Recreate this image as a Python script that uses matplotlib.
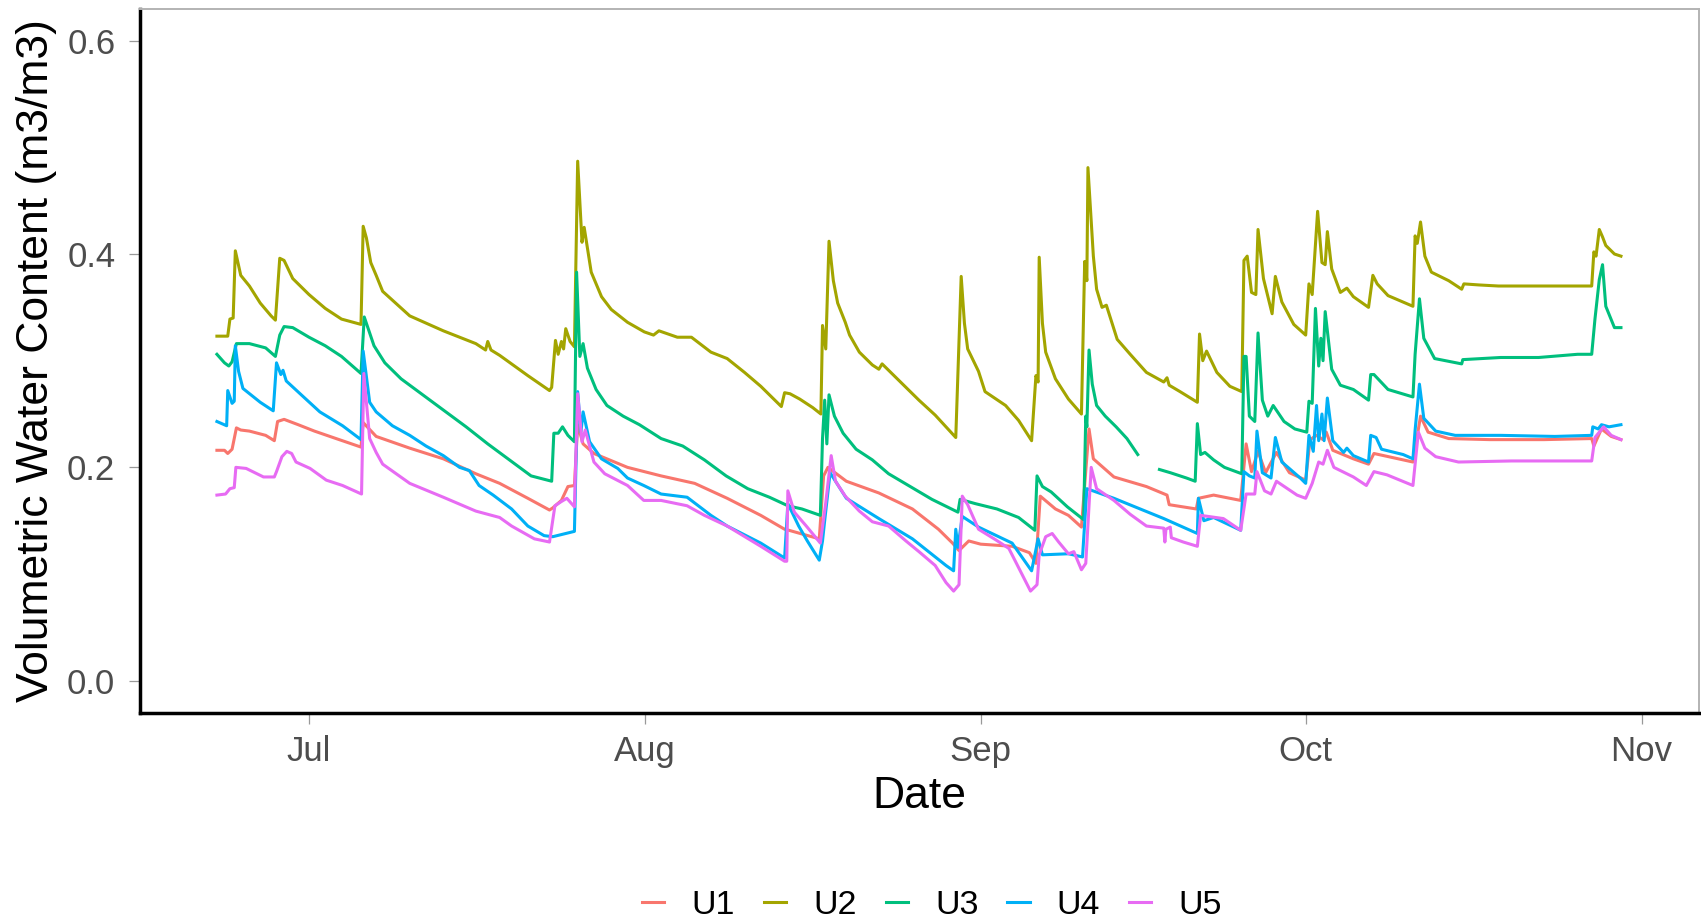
import numpy as np
import pandas as pd
import matplotlib
matplotlib.use("Agg")
import matplotlib.pyplot as plt
import matplotlib.dates as mdates

plt.rcParams['font.family'] = ['Liberation Sans', 'DejaVu Sans']

# days after 1 July, volumetric water content (m3/m3)
start = pd.Timestamp("2021-07-01")
sensors = ["U1", "U2", "U3", "U4", "U5"]
colors = ["#F8766D", "#A3A500", "#00BF7D", "#00B0F6", "#E76BF3"]

u1 = [(-8.5, 0.216), (-7.8, 0.216), (-7.5, 0.213), (-7.1, 0.217), (-6.7, 0.237), (-6.3, 0.235),
      (-5.5, 0.234), (-4.0, 0.230), (-3.2, 0.225), (-2.9, 0.243), (-2.3, 0.245), (-1.0, 0.240),
      (0.5, 0.234), (2.5, 0.227), (4.8, 0.219), (5.0, 0.242), (6.2, 0.229), (9.3, 0.218),
      (12.4, 0.208), (15.4, 0.194), (17.6, 0.185), (20.2, 0.171), (22.2, 0.160), (22.5, 0.162),
      (23.3, 0.169), (23.9, 0.182), (24.5, 0.183), (24.8, 0.240), (25.3, 0.222), (26.3, 0.213),
      (29.4, 0.200), (32.5, 0.192), (35.6, 0.185), (38.6, 0.171), (41.7, 0.155), (43.9, 0.142),
      (44.3, 0.141), (47.1, 0.133), (47.5, 0.192), (47.9, 0.200), (49.6, 0.187), (52.6, 0.176),
      (55.7, 0.161), (58.1, 0.142), (59.4, 0.129), (60.0, 0.122), (60.9, 0.131), (62.0, 0.128),
      (64.9, 0.126), (66.5, 0.120), (67.1, 0.110), (67.5, 0.173), (68.9, 0.161), (70.1, 0.155),
      (71.3, 0.144), (72.0, 0.236), (72.4, 0.208), (74.3, 0.191), (77.3, 0.182), (79.2, 0.174),
      (79.4, 0.165), (81.9, 0.161), (82.1, 0.171), (83.5, 0.174), (86.0, 0.169), (86.5, 0.222),
      (87.0, 0.196), (87.6, 0.215), (88.3, 0.195), (89.3, 0.214), (90.5, 0.195), (92.0, 0.188),
      (92.4, 0.226), (93.0, 0.230), (93.6, 0.226), (93.9, 0.233), (94.5, 0.216), (96.4, 0.208),
      (97.8, 0.203), (98.3, 0.213), (101.9, 0.205), (102.6, 0.248), (103.3, 0.233), (105.2, 0.227),
      (109.0, 0.226), (114.0, 0.226), (118.4, 0.227), (118.6, 0.220), (119.3, 0.236), (120.2, 0.229),
      (121.1, 0.226)]

u2 = [(-8.5, 0.323), (-7.5, 0.323), (-7.3, 0.339), (-7.0, 0.340), (-6.8, 0.403), (-6.3, 0.380),
      (-5.5, 0.370), (-4.5, 0.354), (-3.5, 0.342), (-3.1, 0.338), (-2.7, 0.396), (-2.3, 0.394),
      (-1.5, 0.377), (0.0, 0.362), (1.5, 0.349), (3.0, 0.339), (4.8, 0.334), (5.0, 0.426),
      (5.3, 0.415), (5.7, 0.392), (6.2, 0.380), (6.8, 0.365), (9.3, 0.342), (12.4, 0.328), (15.4, 0.316),
      (16.3, 0.310), (16.5, 0.318), (16.8, 0.310), (17.6, 0.305), (20.2, 0.286), (22.2, 0.272),
      (22.4, 0.275), (22.75, 0.319), (23.0, 0.306), (23.3, 0.318), (23.5, 0.311), (23.7, 0.330),
      (24.1, 0.318), (24.5, 0.313), (24.8, 0.487), (25.2, 0.411), (25.4, 0.425), (26.05, 0.383),
      (27.0, 0.360), (27.9, 0.348), (29.4, 0.336), (30.95, 0.327), (31.8, 0.324), (32.3, 0.328),
      (34.0, 0.322), (35.3, 0.322), (37.1, 0.308), (38.6, 0.302), (40.2, 0.289), (41.7, 0.276),
      (43.6, 0.257), (43.9, 0.270), (44.4, 0.269), (45.3, 0.264), (46.5, 0.256), (47.25, 0.250),
      (47.4, 0.333), (47.7, 0.311), (48.0, 0.412), (48.4, 0.375), (48.8, 0.354), (49.5, 0.336), (49.9, 0.324),
      (50.8, 0.308), (52.0, 0.296), (52.6, 0.292), (52.9, 0.297), (53.9, 0.287), (55.1, 0.275),
      (56.3, 0.263), (57.8, 0.249), (59.7, 0.228), (60.2, 0.379), (60.5, 0.335), (60.8, 0.311), (61.8, 0.290),
      (62.4, 0.271), (64.3, 0.258), (65.5, 0.244), (66.7, 0.225), (67.1, 0.286), (67.3, 0.280),
      (67.4, 0.397), (67.7, 0.335), (68.0, 0.308), (68.9, 0.283), (70.1, 0.264), (71.3, 0.250), (71.6, 0.393),
      (71.8, 0.375), (71.9, 0.481), (72.4, 0.398), (72.7, 0.367), (73.2, 0.350), (73.6, 0.352),
      (74.6, 0.320), (75.8, 0.306), (77.3, 0.289), (78.9, 0.280), (79.2, 0.284), (79.4, 0.277),
      (80.4, 0.271), (82.0, 0.261), (82.2, 0.325), (82.5, 0.300), (82.85, 0.309), (83.8, 0.289),
      (85.0, 0.276), (86.1, 0.271), (86.3, 0.394), (86.6, 0.398), (87.0, 0.364), (87.4, 0.362),
      (87.6, 0.423), (88.1, 0.377), (88.9, 0.344), (89.2, 0.379), (89.8, 0.355), (90.9, 0.334),
      (92.0, 0.324), (92.3, 0.372), (92.6, 0.362), (93.1, 0.440), (93.5, 0.392), (93.8, 0.390),
      (94.0, 0.421), (94.4, 0.386), (95.2, 0.364), (95.8, 0.368), (96.4, 0.360), (97.8, 0.350),
      (98.2, 0.380), (98.6, 0.372), (99.6, 0.361), (101.9, 0.351), (102.1, 0.417), (102.3, 0.410),
      (102.6, 0.430), (103.0, 0.398), (103.6, 0.383), (105.2, 0.375), (106.4, 0.367), (106.6, 0.372),
      (108.0, 0.371), (109.8, 0.370), (115.0, 0.370), (118.4, 0.370), (118.6, 0.402), (118.8, 0.398),
      (119.1, 0.423), (119.4, 0.416), (119.7, 0.408), (120.5, 0.400), (121.1, 0.398)]

u3 = [(-8.5, 0.306), (-7.8, 0.298), (-7.4, 0.295), (-7.1, 0.299), (-6.7, 0.316), (-5.5, 0.316),
      (-4.0, 0.312), (-3.1, 0.304), (-2.7, 0.324), (-2.3, 0.332), (-1.5, 0.331), (0.0, 0.322),
      (1.5, 0.314), (3.0, 0.304), (4.8, 0.288), (5.1, 0.341), (5.5, 0.329), (6.0, 0.314),
      (7.0, 0.298), (8.5, 0.283), (10.5, 0.268), (12.5, 0.253), (14.5, 0.238), (16.5, 0.222),
      (18.5, 0.207), (20.5, 0.192), (22.4, 0.187), (22.6, 0.232), (23.0, 0.232), (23.4, 0.238),
      (23.9, 0.230), (24.5, 0.224), (24.7, 0.383), (25.0, 0.304), (25.3, 0.316), (25.7, 0.293),
      (26.5, 0.273), (27.5, 0.258), (29.0, 0.248), (30.5, 0.240), (32.5, 0.227), (34.5, 0.220),
      (36.5, 0.207), (38.5, 0.192), (40.5, 0.180), (42.5, 0.172), (44.2, 0.164), (45.5, 0.161),
      (47.2, 0.155), (47.4, 0.227), (47.6, 0.263), (47.8, 0.222), (48.0, 0.268), (48.5, 0.248),
      (49.3, 0.232), (50.5, 0.217), (52.0, 0.207), (53.5, 0.194), (55.5, 0.182), (57.5, 0.170),
      (59.9, 0.158), (60.1, 0.170), (61.5, 0.166), (63.5, 0.161), (65.5, 0.153), (67.0, 0.141),
      (67.2, 0.192), (67.7, 0.182), (68.5, 0.177), (70.0, 0.163), (71.5, 0.151), (71.7, 0.248),
      (71.8, 0.238), (72.0, 0.310), (72.3, 0.278), (72.7, 0.258), (73.5, 0.248), (74.5, 0.238),
      (75.5, 0.227), (76.5, 0.212), (77.5, np.nan), (78.5, 0.198), (79.5, 0.195), (81.0, 0.190),
      (81.8, 0.187), (82.0, 0.241), (82.3, 0.212), (82.7, 0.214), (83.5, 0.207), (84.5, 0.200),
      (86.1, 0.194), (86.3, 0.304), (86.5, 0.304), (86.8, 0.248), (87.3, 0.243), (87.6, 0.326),
      (88.0, 0.263), (88.5, 0.248), (89.0, 0.258), (90.0, 0.243), (91.0, 0.236), (92.1, 0.233),
      (92.3, 0.262), (92.6, 0.260), (92.9, 0.349), (93.2, 0.295), (93.4, 0.321), (93.6, 0.300),
      (93.8, 0.346), (94.4, 0.292), (95.2, 0.277), (96.4, 0.273), (97.8, 0.263), (98.0, 0.287),
      (98.3, 0.287), (99.6, 0.273), (101.9, 0.266), (102.1, 0.306), (102.5, 0.358), (102.9, 0.321),
      (103.9, 0.302), (106.4, 0.297), (106.5, 0.301), (110.0, 0.303), (113.5, 0.303), (117.1, 0.306),
      (118.4, 0.306), (118.7, 0.339), (119.1, 0.376), (119.4, 0.390), (119.7, 0.351), (120.5, 0.331),
      (121.1, 0.331)]

u4 = [(-8.5, 0.243), (-7.6, 0.239), (-7.5, 0.272), (-7.1, 0.260), (-6.9, 0.262), (-6.8, 0.314),
      (-6.5, 0.290), (-6.1, 0.274), (-4.5, 0.261), (-3.3, 0.253), (-3.0, 0.298), (-2.6, 0.287),
      (-2.4, 0.291), (-2.1, 0.281), (-0.5, 0.266), (1.0, 0.252), (3.1, 0.239), (4.8, 0.226),
      (5.0, 0.309), (5.6, 0.261), (6.2, 0.252), (7.7, 0.239), (9.3, 0.230), (10.8, 0.220),
      (12.4, 0.211), (13.9, 0.200), (14.8, 0.197), (15.7, 0.183), (17.0, 0.174), (18.7, 0.161),
      (20.2, 0.145), (21.7, 0.136), (22.5, 0.135), (24.5, 0.140), (24.8, 0.271), (25.1, 0.233),
      (25.3, 0.252), (25.9, 0.224), (27.0, 0.208), (28.5, 0.199), (29.4, 0.190), (30.9, 0.183),
      (32.5, 0.175), (34.9, 0.172), (37.1, 0.155), (38.6, 0.145), (41.7, 0.129), (43.9, 0.115),
      (44.2, 0.166), (45.2, 0.145), (46.0, 0.131), (47.1, 0.113), (47.4, 0.131), (47.6, 0.150),
      (48.1, 0.195), (49.6, 0.171), (52.6, 0.152), (55.7, 0.133), (58.8, 0.108), (59.5, 0.103),
      (59.7, 0.142), (59.9, 0.125), (60.3, 0.154), (61.8, 0.144), (64.9, 0.129), (66.7, 0.103),
      (67.3, 0.133), (67.7, 0.118), (70.1, 0.119), (71.4, 0.116), (71.8, 0.180), (74.3, 0.171),
      (78.9, 0.152), (82.0, 0.138), (82.1, 0.171), (82.6, 0.150), (83.5, 0.153), (86.0, 0.141),
      (86.3, 0.196), (86.8, 0.192), (87.3, 0.190), (87.5, 0.234), (88.0, 0.195), (88.8, 0.190),
      (89.2, 0.228), (89.8, 0.205), (91.5, 0.190), (92.0, 0.185), (92.3, 0.230), (92.7, 0.215),
      (93.0, 0.258), (93.2, 0.225), (93.5, 0.250), (93.7, 0.225), (94.0, 0.265), (94.5, 0.225),
      (95.5, 0.214), (95.8, 0.218), (96.4, 0.211), (97.8, 0.205), (98.0, 0.230), (98.5, 0.228),
      (99.0, 0.217), (101.0, 0.212), (101.9, 0.208), (102.1, 0.235), (102.5, 0.278), (102.9, 0.246),
      (104.0, 0.234), (105.8, 0.230), (110.0, 0.230), (115.0, 0.229), (118.4, 0.230), (118.5, 0.238),
      (119.0, 0.236), (119.3, 0.240), (120.0, 0.238), (121.1, 0.240)]

u5 = [(-8.5, 0.174), (-7.7, 0.175), (-7.3, 0.180), (-6.9, 0.181), (-6.75, 0.200), (-5.8, 0.199),
      (-5.2, 0.196), (-4.2, 0.191), (-3.2, 0.191), (-3.0, 0.196), (-2.5, 0.210), (-2.05, 0.215),
      (-1.6, 0.213), (-1.2, 0.205), (0.1, 0.199), (1.6, 0.188), (3.1, 0.183), (4.85, 0.175),
      (5.06, 0.288), (5.6, 0.227), (6.2, 0.214), (6.8, 0.203), (9.3, 0.185), (12.4, 0.172),
      (15.4, 0.159), (17.6, 0.153), (18.7, 0.145), (20.8, 0.133), (22.2, 0.130), (22.7, 0.164),
      (23.3, 0.168), (23.8, 0.171), (24.5, 0.163), (24.8, 0.269), (25.2, 0.224), (25.5, 0.235),
      (26.3, 0.205), (27.3, 0.194), (29.4, 0.183), (30.9, 0.169), (32.5, 0.169), (34.9, 0.164),
      (36.5, 0.155), (38.6, 0.145), (41.7, 0.126), (43.9, 0.112), (44.1, 0.112), (44.2, 0.178),
      (44.8, 0.158), (45.9, 0.145), (47.2, 0.129), (47.7, 0.167), (48.2, 0.211), (48.6, 0.187),
      (49.5, 0.173), (50.8, 0.159), (52.0, 0.149), (53.5, 0.145), (55.1, 0.131), (56.3, 0.121),
      (57.8, 0.108), (58.8, 0.092), (59.5, 0.084), (60.0, 0.090), (60.3, 0.173), (60.8, 0.165),
      (61.8, 0.142), (63.4, 0.132), (64.6, 0.124), (65.5, 0.106), (66.6, 0.084), (67.2, 0.090),
      (67.4, 0.118), (68.0, 0.135), (68.6, 0.138), (69.2, 0.130), (70.1, 0.119), (70.6, 0.121),
      (71.3, 0.104), (71.7, 0.110), (72.2, 0.200), (72.7, 0.180), (74.3, 0.169), (75.8, 0.156),
      (77.3, 0.145), (78.9, 0.143), (79.0, 0.130), (79.1, 0.142), (79.5, 0.144), (79.6, 0.134),
      (80.7, 0.130), (82.0, 0.126), (82.3, 0.155), (84.4, 0.152), (86.0, 0.141), (86.5, 0.175),
      (87.3, 0.175), (87.5, 0.196), (88.2, 0.178), (88.8, 0.175), (89.3, 0.187), (91.2, 0.174),
      (92.0, 0.171), (92.6, 0.185), (93.2, 0.205), (93.6, 0.203), (94.0, 0.216), (94.6, 0.200),
      (96.4, 0.191), (97.6, 0.183), (98.3, 0.196), (99.5, 0.193), (101.9, 0.183), (102.4, 0.233),
      (103.0, 0.218), (104.0, 0.210), (106.1, 0.205), (111.0, 0.206), (118.4, 0.206), (118.7, 0.228),
      (119.5, 0.238), (120.2, 0.230), (121.1, 0.226)]

series = [u1, u2, u3, u4, u5]

fig = plt.figure(figsize=(17.01, 9.22), dpi=100)
ax = fig.add_axes([0.0823, 0.227, 0.9165, 0.7636])

for name, pts, col in zip(sensors, series, colors):
    days = np.array([p[0] for p in pts])
    vwc = np.array([p[1] for p in pts])
    ax.plot(start + pd.to_timedelta(days, unit="D"), vwc, color=col, lw=2.2, label=name)

ax.set_xlim(start + pd.Timedelta(days=-15.6), start + pd.Timedelta(days=128.3))
ax.set_ylim(-0.03, 0.63)
ax.set_yticks([0.0, 0.2, 0.4, 0.6])
ax.set_yticklabels(["0.0", "0.2", "0.4", "0.6"])
ax.xaxis.set_major_locator(mdates.MonthLocator())
ax.xaxis.set_major_formatter(mdates.DateFormatter("%b"))

for s in ["left", "bottom"]:
    ax.spines[s].set_color("black")
    ax.spines[s].set_linewidth(2.5)
for s in ["top", "right"]:
    ax.spines[s].set_color("#b3b3b3")
    ax.spines[s].set_linewidth(1.4)

ax.tick_params(length=7.75, width=0.9, color="#999999", labelsize=25,
               labelcolor="#4d4d4d")
ax.tick_params(axis="x", pad=8)
ax.tick_params(axis="y", pad=10)
ax.set_xlabel("Date", fontsize=32, labelpad=6)
ax.set_ylabel("Volumetric Water Content (m3/m3)", fontsize=32, labelpad=7)

fig.legend(loc="center", bbox_to_anchor=(0.548, 0.0184), ncol=5, frameon=False,
           fontsize=24.5, handlelength=0.65, handletextpad=0.8, columnspacing=0.85)

fig.savefig("out.png", dpi=100)
